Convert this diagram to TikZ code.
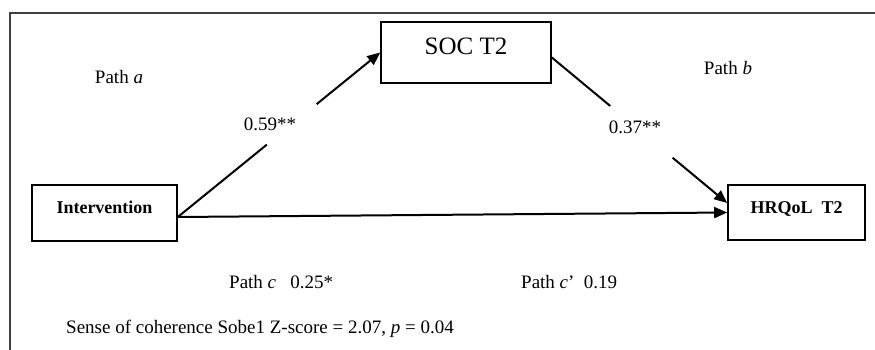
\documentclass[tikz,border=0pt]{standalone}
\usepackage{fontspec}
\setmainfont{Liberation Serif}
\usetikzlibrary{arrows.meta,calc}
\begin{document}
\begin{tikzpicture}[x=1pt,y=-1pt,
  box/.style={draw,line width=1.6pt,inner sep=0pt,align=center},
  lab/.style={inner sep=0pt,font=\fontsize{19}{23}\selectfont},
  conn/.style={line width=2pt},
  tip/.style={-{Triangle[length=13pt,width=11pt]}}]
\useasboundingbox (0,0) rectangle (875,350);
\draw[line width=1.3pt,black!75] (875,13) -- (10,13) -- (10,351);
\node[box,minimum width=170pt,text height=33pt,text depth=28pt,font=\fontsize{25}{30}\selectfont] (soc) at (466,52.5) {SOC T2};
\node[box,minimum width=145pt,text height=28pt,text depth=28pt,font=\fontsize{18}{22}\selectfont\bfseries] (inter) at (104.5,213) {Intervention};
\node[box,minimum width=137pt,text height=28pt,text depth=27pt,font=\fontsize{18}{22}\selectfont\bfseries] (hrq) at (796.5,212.5) {HRQoL\ \ T2};
\coordinate (a0) at ([yshift=-4pt]inter.east);
\coordinate (b0) at ([yshift=-5pt]soc.east);
\coordinate (b1) at ([yshift=9.5pt]hrq.west);
\draw[conn] (a0) -- ($(a0)!0.44!(soc.west)$);
\draw[conn,tip] ($(a0)!0.686!(soc.west)$) -- (soc.west);
\draw[conn] (b0) -- ($(b0)!0.333!(b1)$);
\draw[conn,tip] ($(b0)!0.689!(b1)$) -- (b1);
\draw[conn,tip] (a0) -- (hrq.west);
\node[lab] (pa) at (119,77) {Path \textit{a}};
\node[lab] (va) at (270,124) {0.59**};
\node[lab] (pb) at (728,68) {Path \textit{b}};
\node[lab] (vb) at (635,127) {0.37**};
\node[lab,anchor=west] (pc) at (229,282) {Path \textit{c}\ \ \ 0.25*};
\node[lab,anchor=west] (pcp) at (521,282) {Path \textit{c}’\ \ 0.19};
\node[lab,anchor=west] (sob) at (66,329) {Sense of coherence Sobe1 Z-score = 2.07, \textit{p} = 0.04};
\end{tikzpicture}
\end{document}
